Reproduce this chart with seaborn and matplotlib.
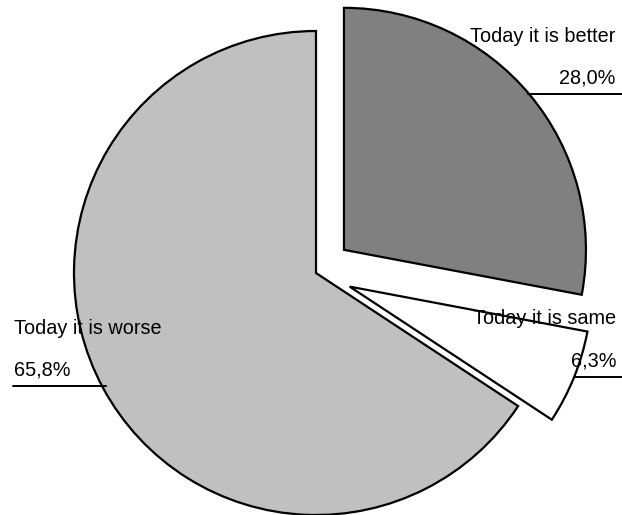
import matplotlib
matplotlib.use("Agg")
import matplotlib.pyplot as plt
import seaborn as sns

sns.set_theme(style="white")
plt.rcParams['font.family'] = ['Liberation Sans', 'DejaVu Sans']

categories = ["Today it is better", "Today it is same", "Today it is worse"]
values = [28.0, 6.3, 65.8]
colors = ["#808080", "#FFFFFF", "#C0C0C0"]
explode_frac = [0.15, 0.15, 0.0]

W, H = 622, 515
fig = plt.figure(figsize=(W / 100, H / 100), dpi=100)
ax = fig.add_axes([0, 0, 1, 1])

cx, cy, r = 316, H - 273, 242
ax.pie(values, explode=[e * r for e in explode_frac], colors=colors, startangle=90,
       counterclock=False, center=(cx, cy), radius=r,
       wedgeprops=dict(edgecolor="black", linewidth=1.6))
ax.set_xlim(0, W)
ax.set_ylim(0, H)
ax.set_aspect("equal")
ax.axis("off")

def fmt(v):
    return f"{v:.1f}".replace(".", ",") + "%"

fs = 14.3
# better
ax.text(615, H - 37, categories[0], ha="right", va="center", fontsize=fs, color="black")
ax.text(615, H - 78, fmt(values[0]), ha="right", va="center", fontsize=fs, color="black")
ax.plot([528, 622], [H - 94, H - 94], color="black", lw=1.4)
# same
ax.text(616, H - 319, categories[1], ha="right", va="center", fontsize=fs, color="black")
ax.text(616, H - 361, fmt(values[1]), ha="right", va="center", fontsize=fs, color="black")
ax.plot([575, 622], [H - 377, H - 377], color="black", lw=1.4)
# worse
ax.text(14, H - 328, categories[2], ha="left", va="center", fontsize=fs, color="black")
ax.text(14, H - 370, fmt(values[2]), ha="left", va="center", fontsize=fs, color="black")
ax.plot([13, 106], [H - 386, H - 386], color="black", lw=1.4)

fig.savefig("out.png", dpi=100, facecolor="white")
